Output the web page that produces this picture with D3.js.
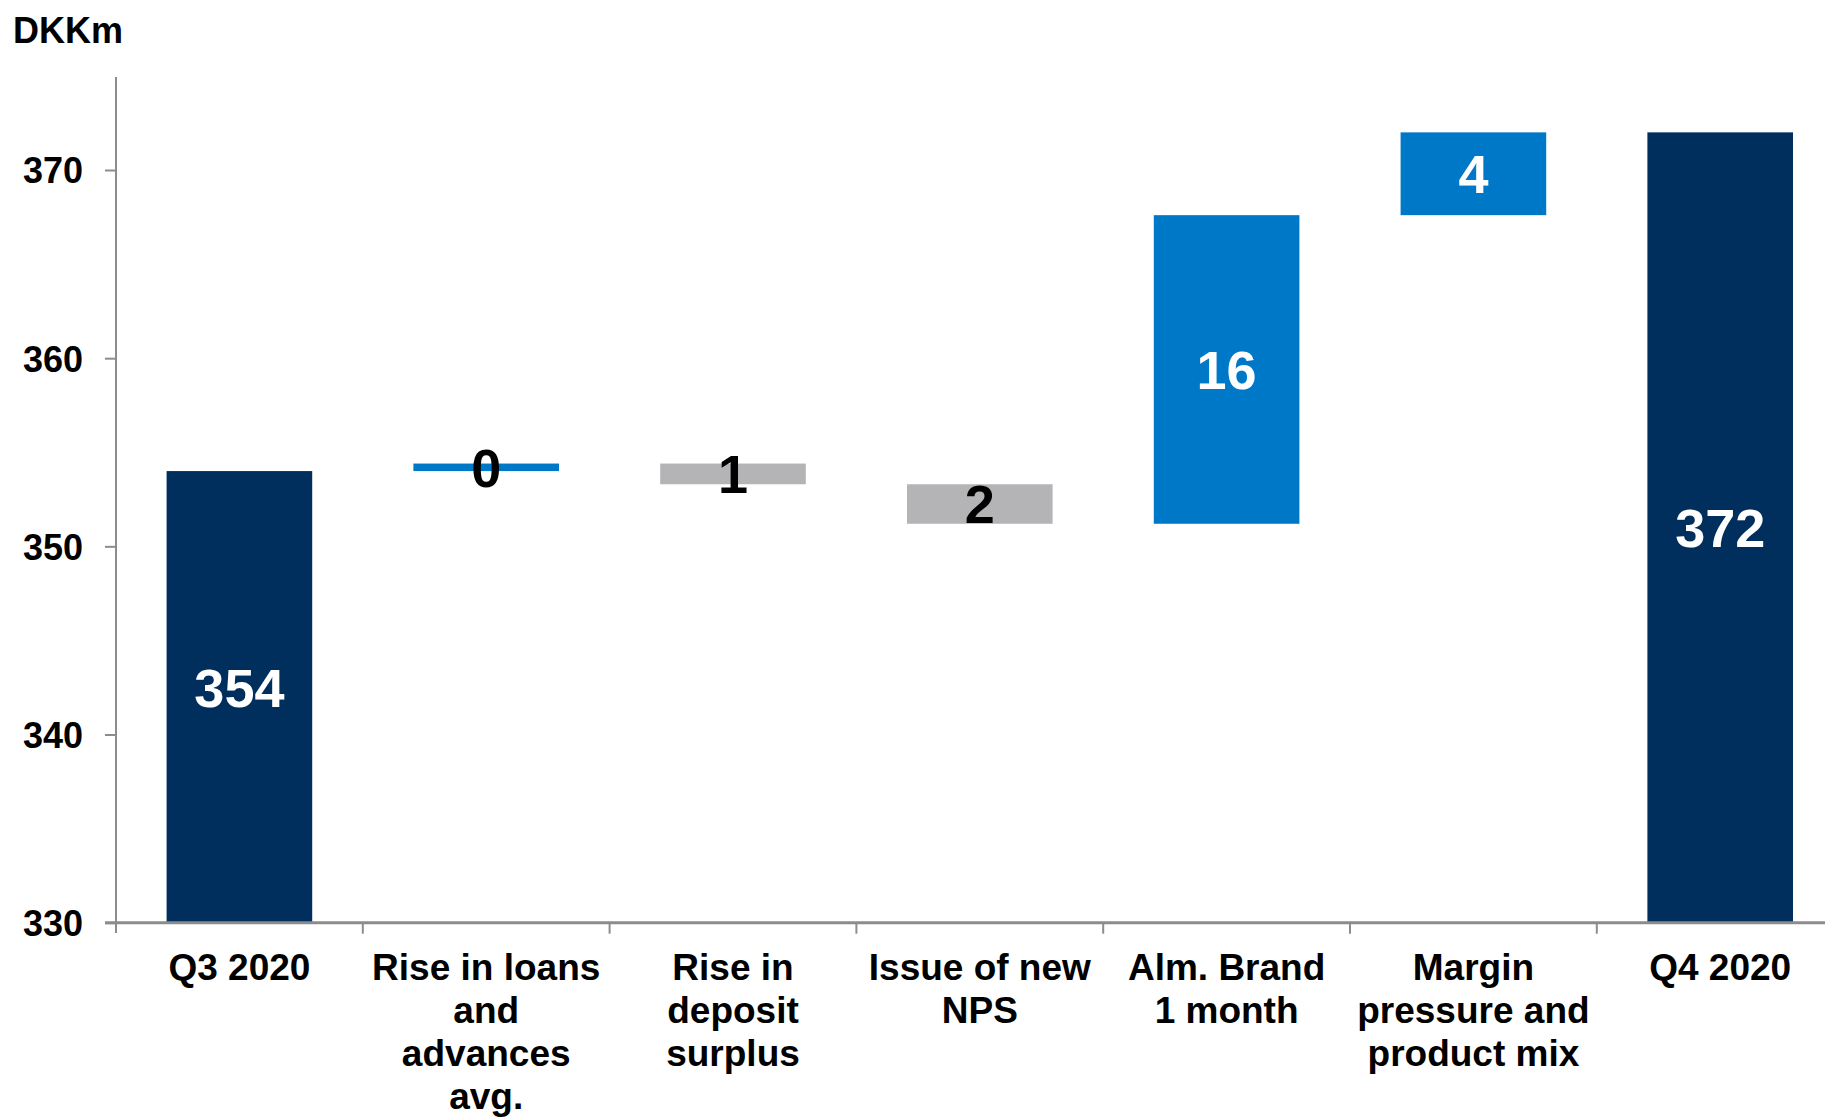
<!DOCTYPE html>
<html><head><meta charset="utf-8">
<script src="https://cdn.jsdelivr.net/npm/d3@7"></script>
<style>
html,body{margin:0;padding:0;background:#fff;}
svg text{font-family:"Liberation Sans",Arial,sans-serif;font-weight:bold;}
</style></head>
<body>
<svg id="chart" width="1825" height="1117"></svg>
<script>
const categories = [
  ["Q3 2020"],
  ["Rise in loans","and","advances","avg."],
  ["Rise in","deposit","surplus"],
  ["Issue of new","NPS"],
  ["Alm. Brand","1 month"],
  ["Margin","pressure and","product mix"],
  ["Q4 2020"]
];
const startValue = 354.0;
const deltas = [0.4, -1.1, -2.1, 16.4, 4.4];
const endValue = 372.0;
const valueLabels = ["354","0","1","2","16","4","372"];
const yTicks = [330, 340, 350, 360, 370];
const unitLabel = "DKKm";

const svg = d3.select("#chart");
const colors = {total:"#002E5D", up:"#0078C8", down:"#B4B4B6", axis:"#8C8C8C"};

const x = d3.scaleBand().domain(d3.range(categories.length)).range([116, 1843.6]).paddingInner(0.41).paddingOuter(0.205);
const y = d3.scaleLinear().domain([330, 370]).range([922.7, 170]);

// build bars
const bars = [];
bars.push({i:0, lo:330, hi:startValue, type:"total"});
let run = startValue;
deltas.forEach((d,k)=>{
  const a = run, b = run + d;
  bars.push({i:k+1, lo:Math.min(a,b), hi:Math.max(a,b), type: d>=0 ? "up":"down"});
  run = b;
});
bars.push({i:categories.length-1, lo:330, hi:endValue, type:"total"});

svg.append("g").selectAll("rect").data(bars).join("rect")
  .attr("x", d=>x(d.i)).attr("width", x.bandwidth())
  .attr("y", d=>y(d.hi)).attr("height", d=>Math.max(y(d.lo)-y(d.hi), 1))
  .attr("fill", d=>colors[d.type]);

// y axis
const yAxis = d3.axisLeft(y).tickValues(yTicks).tickSize(11).tickPadding(22);
const gy = svg.append("g").attr("transform","translate(116,0)").call(yAxis);
gy.select(".domain").remove();
gy.selectAll(".tick line").attr("stroke", colors.axis).attr("stroke-width",2);
gy.selectAll(".tick text").attr("font-size",36).attr("fill","#000").attr("dy","0.36em");
svg.append("line").attr("x1",116).attr("x2",116).attr("y1",77).attr("y2",933)
  .attr("stroke",colors.axis).attr("stroke-width",2);

// x axis
svg.append("line").attr("x1",105).attr("x2",1825).attr("y1",y(330)).attr("y2",y(330))
  .attr("stroke",colors.axis).attr("stroke-width",3);
const bounds = d3.range(1, categories.length).map(i => x(i) - x.step()*x.paddingInner()/2);
svg.append("g").selectAll("line").data(bounds).join("line")
  .attr("x1",d=>d).attr("x2",d=>d).attr("y1",y(330)).attr("y2",y(330)+11)
  .attr("stroke",colors.axis).attr("stroke-width",2);

// category labels
const cl = svg.append("g").selectAll("text").data(categories).join("text")
  .attr("text-anchor","middle").attr("font-size",37).attr("fill","#000")
  .attr("transform",(d,i)=>`translate(${x(i)+x.bandwidth()/2},980)`);
cl.selectAll("tspan").data(d=>d).join("tspan")
  .attr("x",0).attr("y",(d,j)=>j*43).text(d=>d);

// value labels
svg.append("g").selectAll("text").data(bars).join("text")
  .attr("x", d=>x(d.i)+x.bandwidth()/2)
  .attr("y", d=>(y(d.lo)+y(d.hi))/2 - (d.i===0 ? 9 : 0))
  .attr("dy","0.36em").attr("text-anchor","middle").attr("font-size",54)
  .attr("fill", d=> (d.type!=="down" && (y(d.lo)-y(d.hi))>40) ? "#fff" : "#000")
  .text((d,i)=>valueLabels[i]);

svg.append("text").attr("x",13).attr("y",43).attr("font-size",36).attr("fill","#000").text(unitLabel);
</script>
</body></html>
